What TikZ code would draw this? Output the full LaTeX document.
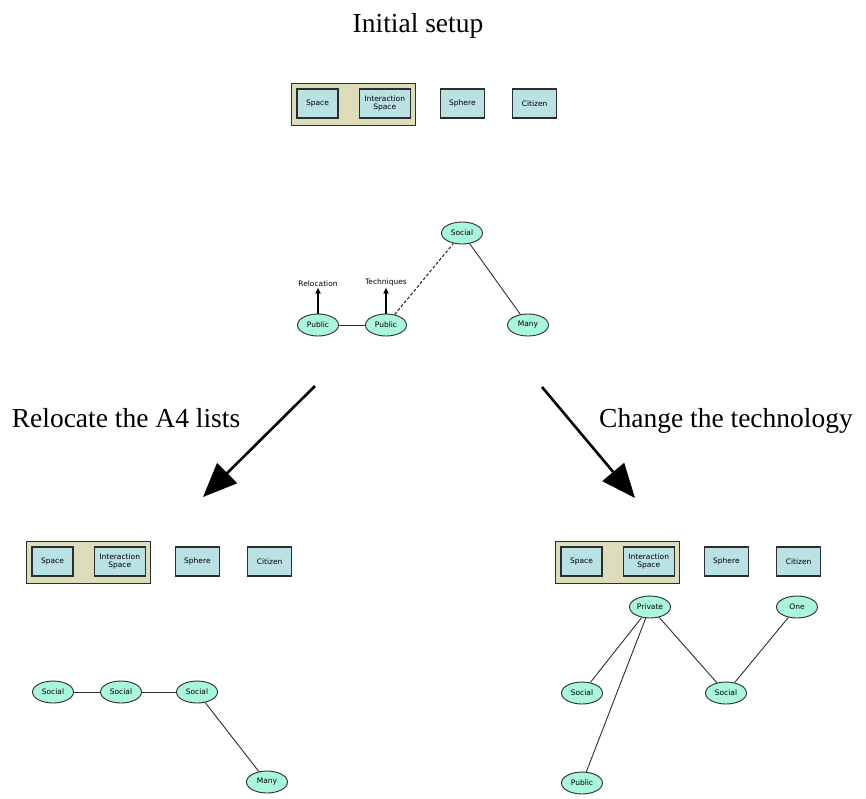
\documentclass[tikz,border=0pt]{standalone}
\usepackage{fontspec}
\setmainfont{Liberation Serif}
\newfontfamily\labelfont{DejaVu Sans}
\usepackage{tikz}
\usetikzlibrary{positioning,arrows.meta,shapes.geometric,fit,backgrounds}
\usepackage{xcolor}
\definecolor{BoxFill}{RGB}{186,225,228}
\definecolor{GroupFill}{RGB}{221,221,188}
\definecolor{RoleFill}{RGB}{170,245,222}
\definecolor{EdgeGray}{RGB}{45,45,45}

\begin{document}
\begin{tikzpicture}[
    x=1pt, y=-1pt,
    part/.style={rectangle, draw=EdgeGray, line width=1.2pt, fill=BoxFill,
        minimum width=41pt, minimum height=29pt, inner sep=1pt,
        font=\labelfont\fontsize{7.5}{8.5}\selectfont, align=center},
    group/.style={rectangle, draw=EdgeGray, line width=1.3pt, fill=GroupFill,
        inner xsep=5pt, inner ysep=6pt, yshift=-1pt},
    role/.style={ellipse, draw=EdgeGray, line width=0.9pt, fill=RoleFill,
        minimum width=41pt, minimum height=22pt, inner sep=0pt,
        font=\labelfont\fontsize{7.5}{8.5}\selectfont},
    tag/.style={inner sep=1pt, font=\labelfont\fontsize{7.5}{8.5}\selectfont},
    link/.style={EdgeGray, line width=0.9pt},
    lift/.style={-{Triangle[length=6pt,width=5pt]}, black, line width=1.5pt},
    move/.style={-{Triangle[length=34pt,width=28pt]}, black, line width=2.6pt},
    caption/.style={anchor=base, inner sep=0pt, font=\fontsize{27.5}{30}\selectfont}
]
\useasboundingbox (0,0) rectangle (866,798);

% headings
\node[caption] (title) at (418,32) {Initial setup};
\node[caption] (lefthead) at (126,427) {Relocate the A4 lists};
\node[caption] (righthead) at (726,427) {Change the technology};

% initial setup
\node[part] (tspace) at (317.5,103.5) {Space};
\node[part, right=20pt of tspace, minimum width=51pt] (tinter) {Interaction\\Space};
\node[part, right=29pt of tinter, minimum width=44pt] (tsphere) {Sphere};
\node[part, right=27pt of tsphere, minimum width=44pt] (tcitizen) {Citizen};
\begin{scope}[on background layer]
\node[group, fit=(tspace)(tinter)] (tgroup) {};
\end{scope}

\node[role] (msocial) at (462,233) {Social};
\node[role] (mpublic) at (318,325) {Public};
\node[role] (mpublicb) at (386,325) {Public};
\node[role] (mmany) at (528,325) {Many};
\node[tag, above=26pt of mpublic] (reloc) {Relocation};
\node[tag, above=26pt of mpublicb] (techn) {Techniques};
\draw[link] (mpublic) -- (mpublicb);
\draw[link, dashed, dash pattern=on 3pt off 2pt, line width=1.1pt] (mpublicb) -- (msocial);
\draw[link] (msocial) -- (mmany);
\draw[lift] (mpublic.north) -- (reloc.south);
\draw[lift] (mpublicb.north) -- (techn.south);

% the two changes
\coordinate (lstart) at (315,386);
\coordinate (lend) at (203,497);
\coordinate (rstart) at (542,387);
\coordinate (rend) at (635,498);
\draw[move] (lstart) -- (lend);
\draw[move] (rstart) -- (rend);

% relocated lists
\node[part] (lspace) at (52.5,561.5) {Space};
\node[part, right=20pt of lspace, minimum width=51pt] (linter) {Interaction\\Space};
\node[part, right=29pt of linter, minimum width=44pt] (lsphere) {Sphere};
\node[part, right=27pt of lsphere, minimum width=44pt] (lcitizen) {Citizen};
\begin{scope}[on background layer]
\node[group, fit=(lspace)(linter)] (lgroup) {};
\end{scope}

\node[role] (lsocial) at (53,692) {Social};
\node[role] (lsocialb) at (121,692) {Social};
\node[role] (lsocialc) at (197,692) {Social};
\node[role] (lmany) at (267,782) {Many};
\draw[link] (lsocial) -- (lsocialb);
\draw[link] (lsocialb) -- (lsocialc);
\draw[link] (lsocialc) -- (lmany);

% changed technology
\node[part] (rspace) at (581.5,561.5) {Space};
\node[part, right=20pt of rspace, minimum width=51pt] (rinter) {Interaction\\Space};
\node[part, right=29pt of rinter, minimum width=44pt] (rsphere) {Sphere};
\node[part, right=27pt of rsphere, minimum width=44pt] (rcitizen) {Citizen};
\begin{scope}[on background layer]
\node[group, fit=(rspace)(rinter)] (rgroup) {};
\end{scope}

\node[role] (rprivate) at (650,607) {Private};
\node[role] (rone) at (797,607) {One};
\node[role] (rsocial) at (582,693) {Social};
\node[role] (rsocialb) at (726,693) {Social};
\node[role] (rpublic) at (582,783) {Public};
\draw[link] (rprivate) -- (rsocial);
\draw[link] (rprivate) -- (rpublic);
\draw[link] (rprivate) -- (rsocialb);
\draw[link] (rsocialb) -- (rone);
\end{tikzpicture}
\end{document}
